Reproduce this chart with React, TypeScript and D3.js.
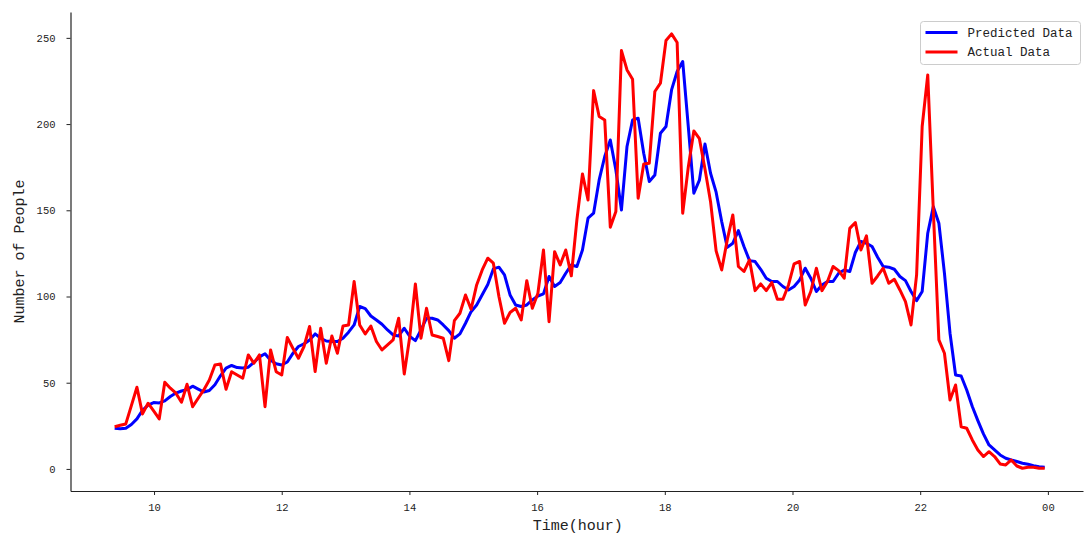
import { useRef, useEffect } from 'react';
import * as d3 from 'd3';

// readings every ~5 minutes between the first and last sample
const startLabel = "09:23";
const endLabel = "23:57";

const actual = [
  24.5, 25.3, 26.1, 36.7, 47.4, 31.9, 38.1, 33.6, 29, 50.3,
  46.8, 43.9, 38.7, 49.1, 36.1, 41, 45.8, 51.6, 60.3, 60.9,
  46.2, 56.4, 54.5, 52.6, 66.1, 61.3, 66.1, 36.1, 69, 56.4,
  54.5, 76.2, 70, 64.2, 71, 82.6, 56.5, 81.6, 61.3, 77.1,
  67.1, 82.9, 83.5, 108.7, 83.5, 78.3, 82.9, 73.9, 69, 71.9,
  74.8, 87.4, 55.1, 76.8, 107.3, 75.8, 93.2, 77.7, 76.8, 75.8,
  62.8, 86, 90.3, 100.9, 92.6, 106.7, 115.4, 122.2, 119.3, 100,
  84.5, 90.7, 93.2, 86.4, 109.2, 93.2, 101.9, 127, 85.4, 126,
  118.3, 127, 112, 144.4, 171.1, 156, 219.4, 204.4, 202.4, 140.2,
  149.3, 242.6, 231.4, 226, 157, 176.9, 177.3, 218.9, 223.7, 248.5,
  252.3, 247.3, 148.3, 175, 196, 191.5, 174, 155, 126.5, 115.4,
  132.8, 147.3, 117.4, 114.5, 121.2, 103.4, 107.3, 103.4, 108.1, 98.4,
  98.4, 106.7, 118.9, 120.3, 95.1, 102.9, 116.4, 103.4, 108.7, 117.4,
  115, 110.6, 139.5, 142.9, 127, 135.2, 107.7, 111.9, 116.4, 107.7,
  110, 103.8, 97, 83.5, 112.5, 198.6, 228.5, 150, 74.8, 67.1,
  40, 48.7, 24.5, 23.6, 16.8, 11, 7.2, 10, 7.2, 2.9,
  2.3, 5.2, 1.7, 0.4, 1, 1, 0.4, 0.4
];

const predicted = [
  23.6, 23.3, 23.6, 25.8, 29, 34, 37, 38.5, 38.3, 39.5,
  42, 44, 45.2, 46, 48, 46.3, 44.6, 45.5, 48.8, 54,
  58.5, 60, 58.8, 58.5, 59, 61.8, 65, 66.8, 63, 61,
  60.3, 62, 67, 71, 72.5, 74.8, 78.3, 75.8, 74.2, 73.9,
  73.9, 75.8, 79.3, 83.5, 94.2, 93, 88.7, 86.4, 83.9, 80.6,
  77.7, 77.1, 81.6, 76.8, 74.4, 80.6, 87.4, 87.4, 86.4, 83.5,
  80.2, 75.8, 78.3, 84.5, 91.2, 95.1, 101, 107, 116, 117,
  112.5, 100.9, 95.1, 94.2, 95.1, 98, 100.3, 101.5, 111.6, 105.8,
  108.1, 113.5, 118.3, 117.4, 127, 145.4, 148.3, 167.6, 181.2, 190.8,
  173.4, 150.2, 187, 202.4, 203.4, 183.1, 166.7, 170.5, 194.7, 198.6,
  219.8, 230.5, 236.3, 198.6, 159.9, 167.5, 188.5, 171.5, 160.5, 143.5,
  128.5, 130.9, 138.2, 129, 120.8, 120.3, 115.8, 110.6, 108.7, 108.7,
  105.8, 103.8, 105.8, 109.6, 116.4, 110.6, 102.9, 106.7, 108.7, 108.7,
  113.5, 115.4, 114.5, 125.5, 131.9, 130.9, 129, 122.8, 117.4, 117,
  115.8, 111.6, 109.2, 102.9, 97.6, 102.9, 136.7, 152.1, 142.5, 113.5,
  78.7, 54.5, 53.9, 45.8, 36.2, 28, 20.3, 13.9, 11, 8.1,
  6.2, 5.2, 4.3, 3.3, 2.7, 1.9, 1.3, 1
];

const yTicks = [0, 50, 100, 150, 200, 250];
const seriesNames = ["Predicted Data", "Actual Data"];
const seriesColors = ["#0000ff", "#ff0000"];

const MONO = '"Liberation Mono", "DejaVu Sans Mono", monospace';

function toDate(hhmm: string) {
  const [h, m] = hhmm.split(":").map(Number);
  return new Date(2020, 0, 1, h, m);
}

function LineChart() {
  const svgRef = useRef<SVGSVGElement>(null);

  useEffect(() => {
    const svg = d3.select(svgRef.current);
    svg.selectAll("*").remove();

    const W = 1084, H = 534;
    const left = 70.5, right = 1083, top = 12, bottom = 491;

    const t0 = toDate(startLabel), t1 = toDate(endLabel);
    const n = actual.length;
    const times = actual.map((_, i) => new Date(+t0 + (i * (+t1 - +t0)) / (n - 1)));

    const x = d3.scaleTime()
      .domain([new Date(2020, 0, 1, 8, 41, 30), new Date(2020, 0, 2, 0, 33)])
      .range([left, right]);

    const y = d3.scaleLinear()
      .domain([-12.8, 265])
      .range([bottom, top]);

    svg.attr("width", W).attr("height", H);

    // Lines
    const line = d3.line<number>()
      .x((_, i) => x(times[i]))
      .y(d => y(d));

    [predicted, actual].forEach((s, k) => {
      svg.append("path")
        .datum(s)
        .attr("fill", "none")
        .attr("stroke", seriesColors[k])
        .attr("stroke-width", 3)
        .attr("stroke-linejoin", "round")
        .attr("d", line);
    });

    // Axes
    const xAxis = svg.append("g")
      .attr("transform", `translate(0,${bottom})`)
      .call(d3.axisBottom(x)
        .ticks(d3.timeHour.every(2))
        .tickFormat(d3.timeFormat("%H") as any)
        .tickSizeInner(4).tickSizeOuter(0).tickPadding(9));
    xAxis.select(".domain").attr("stroke", "#222").attr("stroke-width", 1.2);
    xAxis.selectAll(".tick line").attr("stroke", "#222");
    xAxis.selectAll("text")
      .attr("fill", "#222")
      .style("font-family", MONO)
      .style("font-size", "10.5px");

    const yAxis = svg.append("g")
      .attr("transform", `translate(${left},0)`)
      .call(d3.axisLeft(y).tickValues(yTicks).tickSizeInner(4).tickSizeOuter(0).tickPadding(11));
    yAxis.select(".domain").attr("stroke", "#222").attr("stroke-width", 1.2);
    yAxis.selectAll(".tick line").attr("stroke", "#222");
    yAxis.selectAll("text")
      .attr("fill", "#222")
      .style("font-family", MONO)
      .style("font-size", "10.5px");

    // Axis labels
    svg.append("text")
      .attr("x", (left + right) / 2 + 1)
      .attr("y", 530)
      .attr("text-anchor", "middle")
      .style("font-family", MONO)
      .style("font-size", "15px")
      .attr("fill", "#222")
      .text("Time(hour)");

    svg.append("text")
      .attr("transform", `translate(24,${(top + bottom) / 2}) rotate(-90)`)
      .attr("text-anchor", "middle")
      .style("font-family", MONO)
      .style("font-size", "15px")
      .attr("fill", "#222")
      .text("Number of People");

    // Legend
    const lg = svg.append("g").attr("transform", "translate(920.5,21.5)");
    lg.append("rect")
      .attr("width", 160).attr("height", 43).attr("rx", 3)
      .attr("fill", "#fff").attr("fill-opacity", 0.8)
      .attr("stroke", "#ccc");
    seriesNames.forEach((name, k) => {
      const cy = 11 + k * 19.5;
      lg.append("line")
        .attr("x1", 5).attr("x2", 37).attr("y1", cy).attr("y2", cy)
        .attr("stroke", seriesColors[k]).attr("stroke-width", 3);
      lg.append("text")
        .attr("x", 47).attr("y", cy + 4)
        .style("font-family", MONO)
        .style("font-size", "12.5px")
        .attr("fill", "#222")
        .text(name);
    });
  }, []);

  return <svg ref={svgRef} style={{ position: "absolute", left: 0, top: 0 }}></svg>;
}

export default function App() {
  return <LineChart />;
}
